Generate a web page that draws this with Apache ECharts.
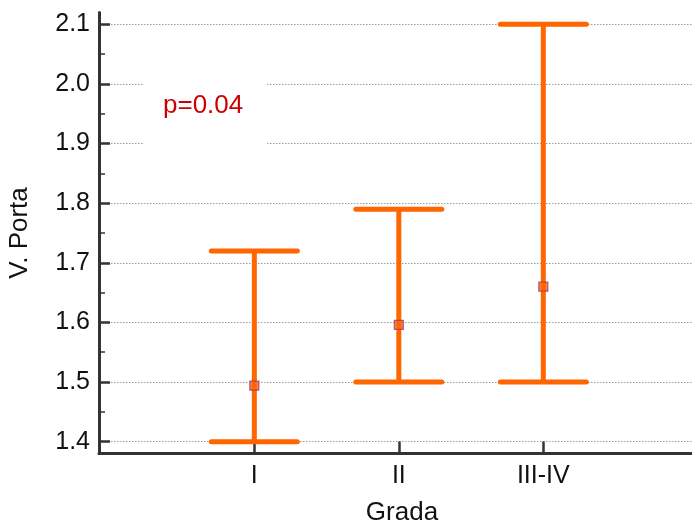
<!DOCTYPE html>
<html>
<head>
<meta charset="utf-8">
<script src="https://cdn.jsdelivr.net/npm/echarts@6/dist/echarts.min.js"></script>
<style>
html,body{margin:0;padding:0;background:#fff;}
#chart{width:692px;height:529px;}
</style>
</head>
<body>
<div id="chart"></div>
<script>
const categories = ['I', 'II', 'III-IV'];
const means = [1.494, 1.596, 1.66];
const lower = [1.40, 1.50, 1.50];
const upper = [1.72, 1.79, 2.10];
const yTicks = [1.4, 1.5, 1.6, 1.7, 1.8, 1.9, 2.0, 2.1];
const yMinorTicks = [1.45, 1.55, 1.65, 1.75, 1.85, 1.95, 2.05];
const xTicks = [1, 2, 3];
const pLabel = 'p=0.04';

const FONT = 'Liberation Sans, Arial, sans-serif';
const ORANGE = '#ff6600';
const AXIS = '#333333';

const chart = echarts.init(document.getElementById('chart'), null, {renderer: 'canvas'});

const barData = categories.map((c, i) => [i + 1, lower[i], upper[i]]);
const meanData = categories.map((c, i) => [i + 1, means[i]]);

const option = {
  animation: false,
  backgroundColor: '#fff',
  grid: {left: 99, right: -13, top: 12.4, bottom: 75.4, containLabel: false, outerBoundsMode: 'none'},
  xAxis: {
    type: 'value',
    min: -0.075,
    max: 4.119,
    name: 'Grada',
    nameLocation: 'middle',
    nameGap: 46,
    nameTextStyle: {fontFamily: FONT, fontSize: 26, color: '#111'},
    axisLine: {show: true, onZero: false, lineStyle: {color: AXIS, width: 3}},
    axisTick: {show: true, inside: true, length: 12, customValues: xTicks, lineStyle: {color: AXIS, width: 2.5}},
    axisLabel: {
      show: true, customValues: xTicks, margin: 10,
      fontFamily: FONT, fontSize: 25, color: '#111',
      formatter: v => categories[Math.round(v) - 1] || ''
    },
    splitLine: {show: false}
  },
  yAxis: [{
    type: 'value',
    min: 1.38,
    max: 2.12,
    name: 'V. Porta',
    nameLocation: 'middle',
    nameGap: 66,
    nameRotate: 90,
    nameTextStyle: {fontFamily: FONT, fontSize: 26, color: '#111'},
    axisLine: {show: true, onZero: false, lineStyle: {color: AXIS, width: 3}},
    axisTick: {show: true, inside: true, length: 11, customValues: yTicks, lineStyle: {color: AXIS, width: 2.5}},
    axisLabel: {
      show: true, customValues: yTicks, margin: 9,
      fontFamily: FONT, fontSize: 25, color: '#111',
      formatter: v => v.toFixed(1)
    },
    splitLine: {show: true, lineStyle: {color: '#9a9a9a', width: 1, type: [1.5, 1.5]}}
  }, {
    type: 'value',
    min: 1.38,
    max: 2.12,
    position: 'left',
    axisLine: {show: false, onZero: false},
    axisTick: {show: true, inside: true, length: 6, customValues: yMinorTicks, lineStyle: {color: AXIS, width: 1.5}},
    axisLabel: {show: false},
    splitLine: {show: false}
  }],
  graphic: [{
    type: 'text',
    left: 143,
    top: 62,
    z: 100,
    style: {
      text: pLabel,
      fontFamily: FONT,
      fontSize: 26,
      fill: '#cc0000',
      backgroundColor: '#ffffff',
      padding: [31, 24, 31, 20]
    }
  }],
  series: [{
    type: 'custom',
    yAxisIndex: 0,
    data: barData,
    encode: {x: 0, y: [1, 2]},
    clip: false,
    renderItem: function (params, api) {
      const x = api.value(0);
      const pLo = api.coord([x, api.value(1)]);
      const pHi = api.coord([x, api.value(2)]);
      const half = 43;
      const style = {stroke: ORANGE, lineWidth: 5, lineCap: 'round', fill: null};
      return {
        type: 'group',
        children: [
          {type: 'line', shape: {x1: pLo[0], y1: pLo[1], x2: pHi[0], y2: pHi[1]}, style: Object.assign({}, style, {lineCap: 'butt'})},
          {type: 'line', shape: {x1: pHi[0] - half, y1: pHi[1], x2: pHi[0] + half, y2: pHi[1]}, style: style},
          {type: 'line', shape: {x1: pLo[0] - half, y1: pLo[1], x2: pLo[0] + half, y2: pLo[1]}, style: style}
        ]
      };
    }
  }, {
    type: 'scatter',
    yAxisIndex: 0,
    data: meanData,
    symbol: 'rect',
    symbolSize: 9,
    z: 5,
    itemStyle: {color: ORANGE, borderColor: '#9b3a7a', borderWidth: 1.2}
  }]
};

chart.setOption(option);
</script>
</body>
</html>
